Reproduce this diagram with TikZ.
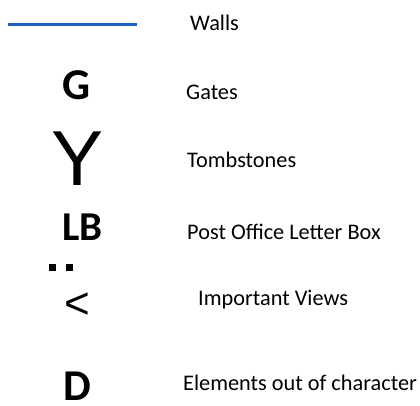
\documentclass[tikz,border=0pt]{standalone}
\usepackage{fontspec}
\setmainfont{Carlito}
\newfontfamily\arialf{Liberation Sans}
\definecolor{wallblue}{HTML}{1F5FBF}
\begin{document}
\begin{tikzpicture}[x=1pt,y=-1pt,
  lbl/.style={anchor=base west,inner sep=0pt,font=\fontsize{22.3}{26}\selectfont},
  sym/.style={anchor=base,inner sep=0pt,font=\fontsize{44}{50}\selectfont\bfseries}]
\useasboundingbox (0,0) rectangle (420,405);
\coordinate (w1) at (8,24.5);
\coordinate (w2) at (137,24.5);
\draw[wallblue,line width=3pt] (w1) -- (w2);
\node[lbl] (walls) at (190,30) {Walls};
\node[sym] (g) at (76.5,99) {G};
\node[lbl] (gates) at (186,99) {Gates};
\node[anchor=base,inner sep=0pt,font=\fontsize{78}{84}\selectfont\arialf] (y) at (78,185) {Y};
\node[lbl] (tomb) at (187,167) {Tombstones};
\node[sym,font=\fontsize{41}{46}\selectfont\bfseries] (lb) at (82.5,240) {LB};
\node[lbl] (post) at (187,239) {Post Office Letter Box};
\fill (49,264) rectangle (56,271);
\fill (66,264) rectangle (73,271);
\node[anchor=base,inner sep=0pt,font=\fontsize{44}{50}\selectfont\arialf] (lt) at (77.5,318) {<};
\node[lbl] (views) at (198,305) {Important Views};
\node[sym] (d) at (77.5,400) {D};
\node[lbl] (elem) at (183,390) {Elements out of character};
\end{tikzpicture}
\end{document}
